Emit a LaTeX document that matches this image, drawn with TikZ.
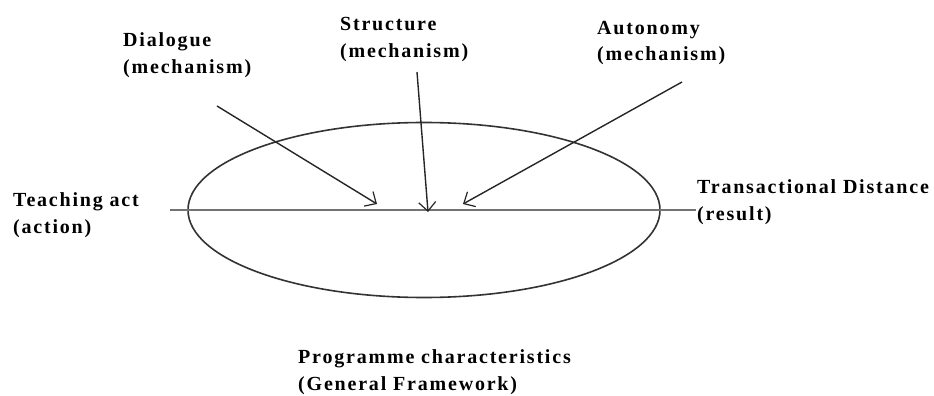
\documentclass[tikz,border=0pt]{standalone}
\usepackage{fontspec}
\setmainfont{Liberation Serif}[LetterSpace=9]
\usetikzlibrary{arrows.meta,shapes.geometric}
\begin{document}
\begin{tikzpicture}[x=1pt,y=-1pt,
  lbl/.style={anchor=base west,align=left,inner sep=0pt,font=\bfseries\fontsize{20}{27}\selectfont},
  arr/.style={draw=black!85,line width=1.4pt,-{Straight Barb[length=9pt,width=17pt,line width=1.2pt]}}]
\useasboundingbox (0,0) rectangle (934,396);
\node[draw=black!80,line width=1.6pt,ellipse,minimum width=472pt,minimum height=175pt,inner sep=0pt] (ell) at (424,210) {};
\coordinate (hl) at (170,210);
\coordinate (hr) at (696,210);
\draw[draw=black!55,line width=2.6pt] (hl) -- (hr);
\node[lbl] (dia) at (123,74) {Dialogue\\(mechanism)};
\node[lbl] (str) at (340,58) {Structure\\(mechanism)};
\node[lbl] (aut) at (597,61) {Autonomy\\(mechanism)};
\node[lbl] (tea) at (13,233) {Teaching act\\(action)};
\node[lbl] (tra) at (697,220) {Transactional Distance\\(result)};
\node[lbl] (pro) at (298,390) {Programme characteristics\\(General Framework)};
\coordinate (d0) at (217,106);
\coordinate (d1) at (377,204);
\coordinate (s0) at (417,72);
\coordinate (s1) at (428,212);
\coordinate (a0) at (682,82);
\coordinate (a1) at (463,204);
\draw[arr] (d0) -- (d1);
\draw[arr] (s0) -- (s1);
\draw[arr] (a0) -- (a1);
\end{tikzpicture}
\end{document}
